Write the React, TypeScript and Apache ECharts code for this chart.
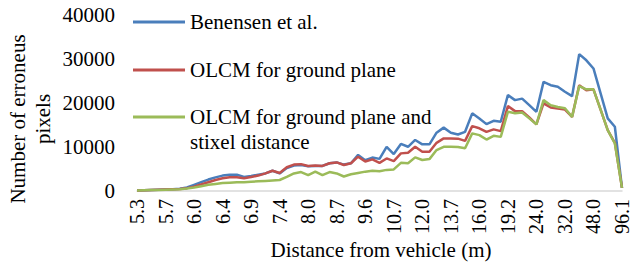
import React, { useEffect, useRef } from "react";
import * as echarts from "echarts";

const distances = [
  "5.3", "5.4", "5.5", "5.6", "5.7", "5.7", "5.8", "5.9", "6.0", "6.1",
  "6.2", "6.3", "6.4", "6.5", "6.6", "6.7", "6.9", "7.0", "7.1", "7.3",
  "7.4", "7.5", "7.7", "7.8", "8.0", "8.2", "8.4", "8.5", "8.7", "8.9",
  "9.2", "9.4", "9.6", "9.9", "10.1", "10.4", "10.7", "11.0", "11.3", "11.6",
  "12.0", "12.4", "12.8", "13.3", "13.7", "14.2", "14.8", "15.4", "16.0", "16.7",
  "17.5", "18.3", "19.2", "20.2", "21.4", "22.6", "24.0", "25.6", "27.5", "29.6",
  "32.0", "34.9", "38.4", "42.7", "48.0", "54.9", "64.1", "76.9", "96.1",
];

const benensen = [
  100, 150, 250, 300, 350, 400, 500, 800, 1400, 2000,
  2600, 3100, 3500, 3700, 3700, 3200, 3400, 3700, 4000, 4600,
  4000, 5200, 5800, 5900, 5600, 5700, 5700, 6300, 6500, 6000,
  6300, 8200, 7000, 7600, 7300, 10050, 8400, 10700, 10050, 11600,
  10600, 10600, 13250, 14400, 13250, 12850, 13450, 17650, 16500, 15200,
  15950, 15750, 21800, 20650, 21000, 19500, 18000, 24800, 24050, 23700,
  22550, 21550, 31100, 29700, 27850, 22200, 16500, 14600, 700,
];

const olcmGround = [
  100, 150, 250, 300, 350, 400, 450, 650, 1000, 1500,
  2000, 2500, 2900, 3100, 3100, 2900, 3200, 3500, 4000, 4600,
  4100, 5400, 6000, 6100, 5700, 5800, 5700, 6300, 6500, 5900,
  6300, 7800, 6700, 7200, 6400, 7400, 6800, 8550, 8700, 10050,
  8900, 8900, 10950, 11950, 11950, 11900, 11400, 14750, 14250, 13450,
  14000, 13600, 19300, 18150, 18150, 16700, 15150, 19900, 19000, 18750,
  18500, 16850, 24050, 22900, 23100, 18500, 13850, 10950, 700,
];

const olcmStixel = [
  100, 150, 200, 250, 300, 350, 400, 550, 800, 1100,
  1400, 1600, 1800, 1900, 2000, 2000, 2100, 2200, 2300, 2400,
  2500, 3200, 4000, 4300, 3600, 4400, 3600, 4300, 4000, 3300,
  3800, 4100, 4400, 4600, 4500, 4800, 4900, 6400, 6300, 7650,
  7050, 7250, 9300, 10050, 10050, 10000, 9700, 13100, 12700, 11700,
  12550, 12300, 18000, 17650, 17850, 16500, 15150, 20650, 19500, 19100,
  18800, 16850, 23850, 23100, 23100, 18500, 13850, 10800, 700,
];

const seriesNames = [
  "Benensen et al.",
  "OLCM for ground plane",
  "OLCM for ground plane and\nstixel distance",
];
const seriesColors = ["#4A7EBB", "#C0504D", "#9BBB59"];

const FONT = "serif";

export default function App() {
  const ref = useRef<HTMLDivElement>(null);
  useEffect(() => {
    if (!ref.current) return;
    const chart = echarts.init(ref.current, undefined, { renderer: "svg" });
    const legendY = [22, 70, 117];
    const graphic: any[] = [
      {
        type: "text",
        x: 30,
        y: 119,
        rotation: Math.PI / 2,
        style: {
          text: "Number of erroneus\npixels",
          fontFamily: FONT,
          fontSize: 21,
          fill: "#000",
          align: "center",
          verticalAlign: "middle",
          lineHeight: 25,
        },
      },
      {
        type: "text",
        x: 381,
        y: 250,
        style: {
          text: "Distance from vehicle (m)",
          fontFamily: FONT,
          fontSize: 21,
          fill: "#000",
          align: "center",
          verticalAlign: "middle",
        },
      },
    ];
    seriesNames.forEach((name, i) => {
      graphic.push({
        type: "line",
        shape: { x1: 133, y1: legendY[i], x2: 185, y2: legendY[i] },
        style: { stroke: seriesColors[i], lineWidth: 3 },
      });
      graphic.push({
        type: "text",
        x: 190,
        y: legendY[i] - 12.5,
        style: {
          text: name,
          fontFamily: FONT,
          fontSize: 21,
          fill: "#000",
          align: "left",
          verticalAlign: "top",
          lineHeight: 25,
        },
      });
    });

    chart.setOption({
      animation: false,
      backgroundColor: "#fff",
      textStyle: { fontFamily: FONT },
      grid: { left: 137, right: 6, top: 15, bottom: 76, containLabel: false },
      xAxis: {
        type: "category",
        data: distances,
        boundaryGap: false,
        axisLine: { show: true, lineStyle: { color: "#D9D9D9", width: 1.5 } },
        axisTick: { show: false },
        axisLabel: {
          interval: 3,
          rotate: 90,
          margin: 8,
          color: "#000",
          fontFamily: FONT,
          fontSize: 20,
        },
        splitLine: { show: false },
      },
      yAxis: {
        type: "value",
        min: 0,
        max: 40000,
        interval: 10000,
        axisLine: { show: false },
        axisTick: { show: false },
        splitLine: { show: false },
        axisLabel: {
          margin: 22,
          color: "#000",
          fontFamily: FONT,
          fontSize: 21,
          formatter: (v: number) => String(v),
        },
      },
      series: [benensen, olcmGround, olcmStixel].map((data, i) => ({
        name: seriesNames[i],
        type: "line",
        data,
        showSymbol: false,
        symbol: "none",
        lineStyle: { color: seriesColors[i], width: 2.5 },
        itemStyle: { color: seriesColors[i] },
      })),
      graphic,
    });
    return () => chart.dispose();
  }, []);
  return (
    <div
      ref={ref}
      style={{ position: "fixed", left: 0, top: 0, width: 632, height: 267 }}
    />
  );
}
